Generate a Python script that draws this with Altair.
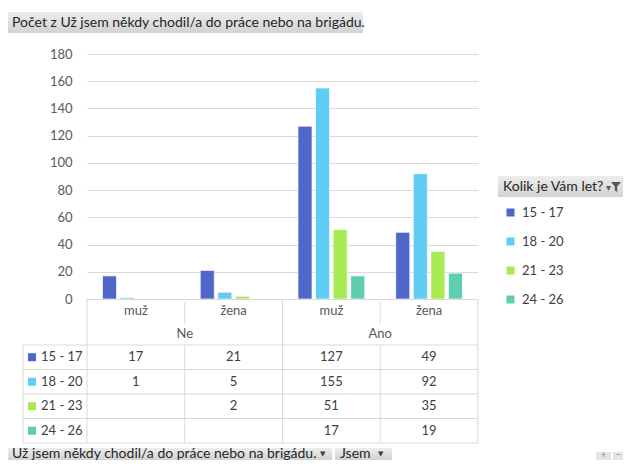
import altair as alt
import pandas as pd

# ---------------- data ----------------
groups = ["Ne", "Ne", "Ano", "Ano"]
sexes = ["muž", "žena", "muž", "žena"]
series = ["15 - 17", "18 - 20", "21 - 23", "24 - 26"]
v_15_17 = [17, 21, 127, 49]
v_18_20 = [1, 5, 155, 92]
v_21_23 = [None, 2, 51, 35]
v_24_26 = [None, None, 17, 19]
colors = ["#4e67c8", "#5eccf3", "#a7ea52", "#5dceaf"]
y_ticks = [0, 20, 40, 60, 80, 100, 120, 140, 160, 180]
title_text = "Počet z Už jsem někdy chodil/a  do práce nebo na brigádu."
legend_title = "Kolik je Vám let?"
filter1_text = "Už jsem někdy chodil/a  do práce nebo na brigádu."
filter2_text = "Jsem"

# ---------------- build tables ----------------
cats = [f"{g}|{s}" for g, s in zip(groups, sexes)]
rows = []
for ser, vals in zip(series, [v_15_17, v_18_20, v_21_23, v_24_26]):
    for c, g, s, v in zip(cats, groups, sexes, vals):
        rows.append({"cat": c, "group": g, "sex": s, "series": ser, "value": v})
df = pd.DataFrame(rows)
df_vals = df.dropna(subset=["value"]).copy()

FONT = "Lato"
W, H = 391, 389
BAR_H = 245
GRID = "#d9d9d9"
TXT = "#595959"

x_cat = alt.X("cat:N", scale=alt.Scale(domain=cats, paddingInner=0, paddingOuter=0), axis=None)
y_row = alt.Y("series:N", scale=alt.Scale(domain=series, range=[291, 389], paddingInner=0, paddingOuter=0), axis=None)
color_enc = alt.Color(
    "series:N",
    scale=alt.Scale(domain=series, range=colors),
    legend=alt.Legend(
        orient="none", legendX=417, legendY=152, title=None, symbolType="square",
        symbolSize=64, symbolStrokeWidth=0, labelFont=FONT, labelFontSize=13,
        labelColor="#404040", rowPadding=15, labelOffset=5, padding=0,
    ),
)

one = pd.DataFrame({"d": [0]})

bars = alt.Chart(df_vals).mark_bar(stroke="white", strokeWidth=0.7).encode(
    x=x_cat,
    xOffset=alt.XOffset("series:N", scale=alt.Scale(domain=series, paddingInner=0.2, paddingOuter=0.88)),
    y=alt.Y("value:Q", scale=alt.Scale(domain=[0, 180], range=[BAR_H, 0], nice=False),
            axis=alt.Axis(values=y_ticks, grid=True, gridColor=GRID, domain=False, ticks=False,
                          labelPadding=15, labelFont=FONT, labelFontSize=13, labelColor=TXT, title=None)),
    color=color_enc,
)

# ---------------- table lines ----------------
def hline(x1, x2, y):
    return alt.Chart(one).mark_rule(color=GRID, strokeWidth=1).encode(
        x=alt.value(x1), x2=alt.value(x2), y=alt.value(y))

def vline(x, y1, y2):
    return alt.Chart(one).mark_rule(color=GRID, strokeWidth=1).encode(
        x=alt.value(x), y=alt.value(y1), y2=alt.value(y2))

step = W / 4
lines = [hline(0, W, BAR_H + 0.5)]
for yy in [291, 315.5, 340, 364.5, 389]:
    lines.append(hline(-64, W, yy))
for i in [0, 2, 4]:
    lines.append(vline(i * step, BAR_H, 389))
for i in [1, 3]:
    lines.append(vline(i * step, BAR_H + 3, 270))
    lines.append(vline(i * step, 291, 389))
lines.append(vline(-64, 291, 389))

# ---------------- table text ----------------
hdr = pd.DataFrame({"cat": cats, "sex": sexes})
sex_text = alt.Chart(hdr).mark_text(font=FONT, fontSize=13, color=TXT, baseline="middle").encode(
    x=x_cat, y=alt.value(257), text="sex:N")

grp_rows = []
for g in dict.fromkeys(groups):
    gc = [c for c, gg in zip(cats, groups) if gg == g]
    grp_rows.append({"cat": gc[len(gc) // 2], "group": g})
grp = pd.DataFrame(grp_rows)
grp_text = alt.Chart(grp).mark_text(font=FONT, fontSize=13, color=TXT, baseline="middle").encode(
    x=alt.X("cat:N", scale=alt.Scale(domain=cats, paddingInner=0, paddingOuter=0), axis=None, bandPosition=0),
    y=alt.value(280), text="group:N")

val_text = alt.Chart(df_vals).mark_text(font=FONT, fontSize=13, color="#404040", baseline="middle").encode(
    x=x_cat, y=y_row, text=alt.Text("value:Q", format="d"))

ser_df = pd.DataFrame({"series": series})
row_sq = alt.Chart(ser_df).mark_square(size=64, opacity=1, strokeWidth=0).encode(
    x=alt.value(-55), y=y_row, color=color_enc)
row_lab = alt.Chart(ser_df).mark_text(font=FONT, fontSize=13, color="#404040", align="left", baseline="middle").encode(
    x=alt.value(-46), y=y_row, text="series:N")

# ---------------- buttons ----------------
grad = alt.Gradient(gradient="linear", stops=[alt.GradientStop(color="#ededed", offset=0),
                                              alt.GradientStop(color="#d2d2d2", offset=1)],
                    x1=0, x2=0, y1=0, y2=1)

def button(x1, x2, y1, y2, fill=grad):
    return alt.Chart(one).mark_rect(fill=fill).encode(
        x=alt.value(x1), x2=alt.value(x2), y=alt.value(y1), y2=alt.value(y2))

def label(x, y, txt, size=14, color="#262626", align="left", font=FONT):
    return alt.Chart(one).mark_text(font=font, fontSize=size, color=color, align=align, baseline="middle").encode(
        x=alt.value(x), y=alt.value(y), text=alt.value(txt))

funnel = alt.Chart(one).mark_point(
    shape="M-1,-1L1,-1L0.25,-0.1L0.25,1L-0.25,0.7L-0.25,-0.1Z", filled=True, size=100,
    color="#595959", opacity=1, strokeWidth=0).encode(x=alt.value(529), y=alt.value(133))

deco = [
    button(-79, 276, -42, -21), label(-75, -31.5, title_text),
    button(411, 536, 122, 143), label(416, 132.5, legend_title),
    label(519, 134, "▾", size=10, color="#595959", font="DejaVu Sans"), funnel,
    button(-79, 245, 394, 406), label(-75, 399.5, filter1_text),
    label(233, 399.5, "▼", size=7, color="#404040", font="DejaVu Sans"),
    button(248, 305, 394, 406), label(253, 399.5, filter2_text),
    label(291, 399.5, "▼", size=7, color="#404040", font="DejaVu Sans"),
    button(509, 524, 398, 406, fill="#e4e4e4"), label(516.5, 401, "+", size=9, color="#8a8a8a", align="center"),
    button(526, 536, 398, 406, fill="#e4e4e4"), label(531, 401, "−", size=9, color="#8a8a8a", align="center"),
]

chart = alt.layer(
    bars, *lines, sex_text, grp_text, val_text, row_sq, row_lab, *deco
).resolve_scale(y="independent").properties(
    width=W, height=H, autosize=alt.AutoSizeParams(type="none"),
    padding={"left": 79, "top": 46, "right": 145, "bottom": 17},
    background="white",
).configure_view(stroke=None)

chart.save("out.html", embed_options={"renderer": "svg", "actions": False})
